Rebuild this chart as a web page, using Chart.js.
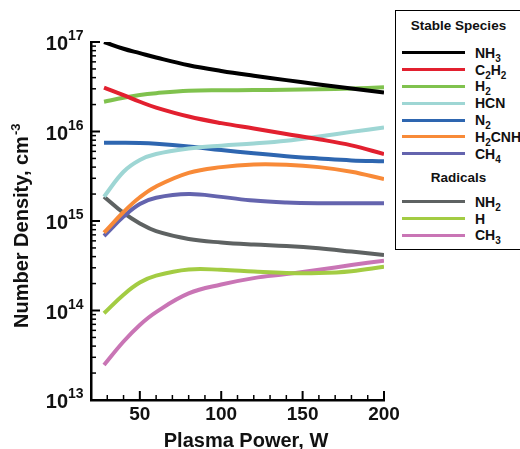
<!DOCTYPE html>
<html>
<head>
<meta charset="utf-8">
<script src="https://cdn.jsdelivr.net/npm/chart.js@4.4.1/dist/chart.umd.min.js"></script>
<style>
  body { margin: 0; background: #fff; }
  #wrap { position: relative; width: 520px; height: 449px; overflow: hidden; }
  #legend {
    position: absolute; left: 395px; top: 10px; width: 130px; height: 240px;
    border: 1px solid #000; box-sizing: border-box; background: #fff;
    font-family: "Liberation Sans", Arial, sans-serif; font-weight: bold; color: #111;
  }
  .row { position: absolute; left: 0; width: 100%; height: 16px; }
  .sw { position: absolute; left: 6px; top: 6.5px; width: 63px; height: 3px; }
  .lb { position: absolute; left: 79px; top: 0; line-height: 16px; font-size: 14px; white-space: nowrap; }
  .lb sub { font-size: 10px; vertical-align: -4px; line-height: 0; }
  .head { position: absolute; left: 0; width: 125px; text-align: center; font-size: 13.5px; line-height: 16px; }
</style>
</head>
<body>
<div id="wrap">
  <canvas id="chart" width="520" height="449"></canvas>
  <div id="legend"></div>
</div>
<script>
// plasma power, W
const powerW = [28, 40, 50, 60, 80, 100, 120, 140, 160, 180, 200];

// number densities, cm^-3
const nh3   = [1.0e17, 8.4e16, 7.5e16, 6.7e16, 5.5e16, 4.75e16, 4.2e16, 3.75e16, 3.35e16, 3.03e16, 2.72e16];
const c2h2  = [3.1e16, 2.55e16, 2.15e16, 1.85e16, 1.47e16, 1.24e16, 1.08e16, 9.4e15, 8.2e15, 7.0e15, 5.6e15];
const h2    = [2.15e16, 2.38e16, 2.56e16, 2.68e16, 2.85e16, 2.89e16, 2.9e16, 2.92e16, 2.96e16, 3.02e16, 3.12e16];
const hcn   = [1.87e15, 3.55e15, 4.8e15, 5.6e15, 6.45e15, 6.95e15, 7.35e15, 7.9e15, 8.8e15, 9.9e15, 1.11e16];
const n2    = [7.5e15, 7.5e15, 7.45e15, 7.3e15, 6.8e15, 6.2e15, 5.7e15, 5.3e15, 5.0e15, 4.75e15, 4.64e15];
const h2cnh = [7.4e14, 1.26e15, 1.84e15, 2.43e15, 3.45e15, 4.0e15, 4.28e15, 4.25e15, 4.0e15, 3.55e15, 2.94e15];
const ch4   = [6.8e14, 1.12e15, 1.55e15, 1.82e15, 2.0e15, 1.86e15, 1.69e15, 1.61e15, 1.58e15, 1.58e15, 1.58e15];
const nh2   = [1.87e15, 1.23e15, 9.4e14, 7.7e14, 6.3e14, 5.75e14, 5.45e14, 5.25e14, 4.95e14, 4.55e14, 4.17e14];
const hRad  = [9.3e13, 1.5e14, 2.05e14, 2.45e14, 2.87e14, 2.85e14, 2.72e14, 2.62e14, 2.62e14, 2.75e14, 3.08e14];
const ch3   = [2.46e13, 4.5e13, 6.9e13, 9.6e13, 1.55e14, 1.95e14, 2.3e14, 2.55e14, 2.85e14, 3.22e14, 3.6e14];

const stableNames  = ["NH3", "C2H2", "H2", "HCN", "N2", "H2CNH", "CH4"];
const radicalNames = ["NH2", "H", "CH3"];
const stableColors  = ["#000000", "#e2202f", "#80c24e", "#9ed6d4", "#2e66b0", "#f88a38", "#6464ae"];
const radicalColors = ["#5e6262", "#a3cc43", "#c975b5"];

const yTickExps   = [13, 14, 15, 16, 17];
const xTickLabels = [50, 100, 150, 200];

const FONT = '"Liberation Sans", Arial, sans-serif';

const allValues = [nh3, c2h2, h2, hcn, n2, h2cnh, ch4, nh2, hRad, ch3];
const allNames = stableNames.concat(radicalNames);
const allColors = stableColors.concat(radicalColors);

const datasets = [];
for (let i = 0; i < allValues.length; i++) {
  datasets.push({
    label: allNames[i],
    data: powerW.map((p, j) => ({ x: p, y: allValues[i][j] })),
    borderColor: allColors[i],
    borderWidth: 4,
    pointRadius: 0,
    tension: 0.4,
    fill: false,
  });
}

// ticks drawn inward + labels with superscripts
const axisDecor = {
  id: "axisDecor",
  afterDraw(chart) {
    const ctx = chart.ctx;
    const x = chart.scales.x;
    const y = chart.scales.y;
    const a = chart.chartArea;
    ctx.save();
    ctx.strokeStyle = "#000";

    for (let e = yTickExps[0]; e <= yTickExps[yTickExps.length - 1]; e++) {
      for (let m = 1; m <= 9; m++) {
        if (e === yTickExps[yTickExps.length - 1] && m > 1) break;
        const py = y.getPixelForValue(m * Math.pow(10, e));
        ctx.lineWidth = m === 1 ? 2 : 1.5;
        ctx.beginPath();
        ctx.moveTo(a.left, py);
        ctx.lineTo(a.left + (m === 1 ? 9 : 5), py);
        ctx.stroke();
      }
    }
    for (let v = 30; v <= 200; v += 10) {
      const px = x.getPixelForValue(v);
      const major = v % 50 === 0;
      ctx.lineWidth = major ? 2 : 1.5;
      ctx.beginPath();
      ctx.moveTo(px, a.bottom);
      ctx.lineTo(px, a.bottom - (major ? 9 : 5));
      ctx.stroke();
    }

    ctx.fillStyle = "#111";
    // y tick labels
    yTickExps.forEach(function (e) {
      const py = y.getPixelForValue(Math.pow(10, e));
      ctx.font = "bold 20px " + FONT;
      ctx.textAlign = "right";
      ctx.textBaseline = "alphabetic";
      ctx.fillText("10", 68, py + 8);
      ctx.font = "bold 14px " + FONT;
      ctx.textAlign = "left";
      ctx.fillText(String(e), 68, py - 2);
    });
    // x tick labels
    ctx.font = "bold 19px " + FONT;
    ctx.textAlign = "center";
    xTickLabels.forEach(function (v) {
      ctx.fillText(String(v), x.getPixelForValue(v), 420);
    });
    // x title
    ctx.font = "bold 20px " + FONT;
    ctx.fillText("Plasma Power, W", 246, 447);
    // y title
    ctx.translate(28, 328);
    ctx.rotate(-Math.PI / 2);
    ctx.textAlign = "left";
    ctx.font = "bold 20px " + FONT;
    const t = "Number Density, cm";
    ctx.fillText(t, 0, 0);
    const w = ctx.measureText(t).width;
    ctx.font = "bold 13px " + FONT;
    ctx.fillText("-3", w + 1, -8);
    ctx.restore();
  },
};

new Chart(document.getElementById("chart"), {
  type: "line",
  data: { datasets: datasets },
  options: {
    responsive: false,
    animation: false,
    layout: { padding: { left: 91, right: 136, top: 42, bottom: 49 } },
    plugins: { legend: { display: false }, tooltip: { enabled: false } },
    scales: {
      x: {
        type: "linear", min: 20, max: 200,
        ticks: { display: false },
        grid: { drawOnChartArea: false, drawTicks: false },
        border: { display: true, color: "#000", width: 2.5 },
      },
      y: {
        type: "logarithmic", min: 1e13, max: 1e17,
        ticks: { display: false },
        grid: { drawOnChartArea: false, drawTicks: false },
        border: { display: true, color: "#000", width: 2.5 },
      },
    },
  },
  plugins: [axisDecor],
});

// legend box (html, for subscripts)
function subs(name) {
  return name.replace(/(\d)/g, "<sub>$1</sub>");
}
const legend = document.getElementById("legend");
function addHead(text, cy) {
  const d = document.createElement("div");
  d.className = "head";
  d.style.top = (cy - 8 - 11) + "px";
  d.textContent = text;
  legend.appendChild(d);
}
function addRow(name, color, cy) {
  const r = document.createElement("div");
  r.className = "row";
  r.style.top = (cy - 8 - 11) + "px";
  r.innerHTML = '<span class="sw" style="background:' + color + '"></span><span class="lb">' + subs(name) + "</span>";
  legend.appendChild(r);
}
addHead("Stable Species", 26);
stableNames.forEach((n, i) => addRow(n, stableColors[i], 52.7 + i * 16.83));
addHead("Radicals", 178.3);
radicalNames.forEach((n, i) => addRow(n, radicalColors[i], 201.7 + i * 16.8));
</script>
</body>
</html>
